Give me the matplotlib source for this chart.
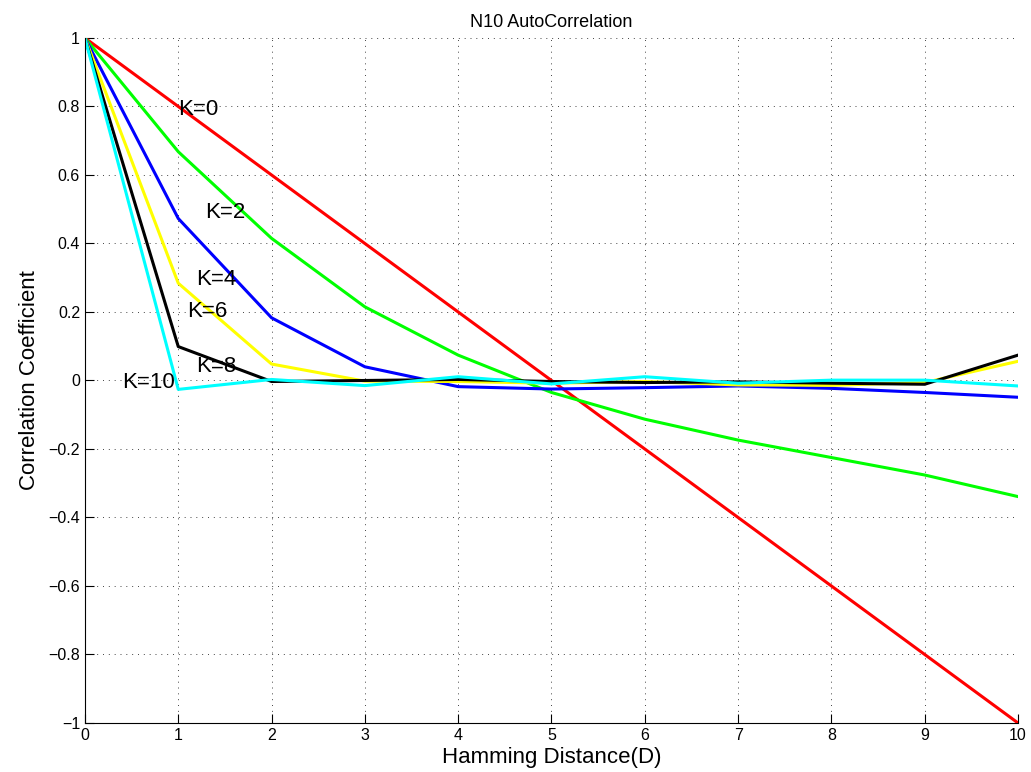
import matplotlib
matplotlib.use('Agg')
from matplotlib import pyplot as plt

plt.rcParams['font.family'] = ['Liberation Sans', 'DejaVu Sans']

# Hamming distance
D = [0, 1, 2, 3, 4, 5, 6, 7, 8, 9, 10]

# autocorrelation per K
k0 = [1, 0.8, 0.6, 0.4, 0.2, 0.0, -0.2, -0.4, -0.6, -0.8, -1.0]
k2 = [1, 0.668, 0.415, 0.215, 0.074, -0.035, -0.113, -0.174, -0.225, -0.276, -0.339]
k4 = [1, 0.473, 0.183, 0.040, -0.018, -0.025, -0.021, -0.016, -0.023, -0.035, -0.049]
k6 = [1, 0.284, 0.048, -0.002, -0.003, -0.008, -0.003, -0.013, -0.014, -0.006, 0.056]
k8 = [1, 0.099, -0.003, 0.0, 0.003, -0.003, -0.006, -0.004, -0.008, -0.011, 0.074]
k10 = [1, -0.026, 0.003, -0.015, 0.011, -0.010, 0.011, -0.008, 0.001, 0.001, -0.016]

series = [k0, k2, k4, k6, k8, k10]
colors = ['#ff0000', '#00ff00', '#0000ff', '#ffff00', '#000000', '#00ffff']

labels = ['K=0', 'K=2', 'K=4', 'K=6', 'K=8', 'K=10']
label_x = [1.0, 1.29, 1.19, 1.09, 1.19, 0.40]
label_y = [0.79, 0.49, 0.295, 0.20, 0.04, -0.005]

fig = plt.figure(figsize=(10.31, 7.72), dpi=100)
ax = fig.add_axes([0.0824, 0.0635, 0.905, 0.8873])

for ys, c in zip(series, colors):
    ax.plot(D, ys, color=c, linewidth=2.2)

for t, x, y in zip(labels, label_x, label_y):
    ax.text(x, y, t, fontsize=16, ha='left', va='center')

ax.set_xlim(0, 10)
ax.set_ylim(-1, 1)
ax.set_xticks(range(0, 11))
ax.set_yticks([-1, -0.8, -0.6, -0.4, -0.2, 0, 0.2, 0.4, 0.6, 0.8, 1])
ax.set_yticklabels(['\u22121', '\u22120.8', '\u22120.6', '\u22120.4', '\u22120.2', '0',
                    '0.2', '0.4', '0.6', '0.8', '1'])
ax.tick_params(direction='in', length=6.5, width=0.8, labelsize=11.5)

ax.spines['top'].set_visible(False)
ax.spines['right'].set_visible(False)
ax.grid(True, color='#444444', linestyle=(0, (1, 5)), linewidth=0.7)
ax.set_axisbelow(True)

ax.set_title('N10 AutoCorrelation', fontsize=13, pad=8)
ax.set_xlabel('Hamming Distance(D)', fontsize=16, labelpad=3)
ax.set_ylabel('Correlation Coefficient', fontsize=16, labelpad=6)

plt.savefig('out.png', dpi=100)
